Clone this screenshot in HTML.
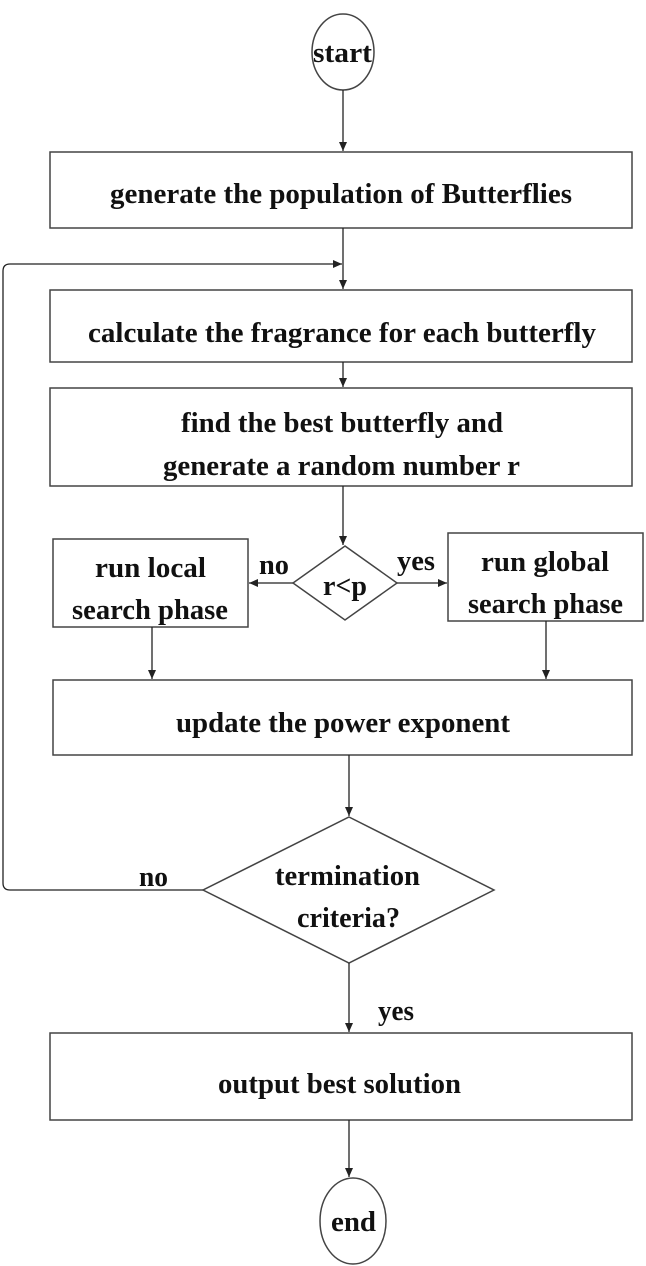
<!DOCTYPE html>
<html><head><meta charset="utf-8"><style>html,body{margin:0;padding:0;background:#fff}svg{display:block}</style></head><body>
<svg width="646" height="1266" viewBox="0 0 646 1266" xmlns="http://www.w3.org/2000/svg">
<defs><marker id="a" markerWidth="10" markerHeight="10" refX="9" refY="5" orient="auto" markerUnits="userSpaceOnUse"><path d="M0,1 L9,5 L0,9 Z" fill="#222"/></marker></defs>
<g fill="none" stroke="#444" stroke-width="1.5">
<ellipse cx="343" cy="52" rx="31" ry="38"/>
<rect x="50" y="152" width="582" height="76"/>
<rect x="50" y="290" width="582" height="72"/>
<rect x="50" y="388" width="582" height="98"/>
<polygon points="345,546 397,583 345,620 293,583"/>
<rect x="53" y="539" width="195" height="88"/>
<rect x="448" y="533" width="195" height="88"/>
<rect x="53" y="680" width="579" height="75"/>
<polygon points="349,817 494,890 349,963 203,890"/>
<rect x="50" y="1033" width="582" height="87"/>
<ellipse cx="353" cy="1221" rx="33" ry="43"/>
</g>
<g stroke="#222" stroke-width="1.3" fill="none" marker-end="url(#a)">
<line x1="343" y1="90" x2="343" y2="151"/>
<line x1="343" y1="228" x2="343" y2="289"/>
<path d="M203,890 H10 Q3,890 3,883 V271 Q3,264 10,264 H342"/>
<line x1="343" y1="362" x2="343" y2="387"/>
<line x1="343" y1="486" x2="343" y2="545"/>
<line x1="293" y1="583" x2="249" y2="583"/>
<line x1="397" y1="583" x2="447" y2="583"/>
<line x1="152" y1="627" x2="152" y2="679"/>
<line x1="546" y1="621" x2="546" y2="679"/>
<line x1="349" y1="755" x2="349" y2="816"/>
<line x1="349" y1="963" x2="349" y2="1032"/>
<line x1="349" y1="1120" x2="349" y2="1177"/>
</g>
<g font-family="'Liberation Serif',serif" font-weight="bold" font-size="28" fill="#111" lengthAdjust="spacingAndGlyphs">
<text x="313" y="62" textLength="59" lengthAdjust="spacingAndGlyphs">start</text>
<text x="110" y="203" textLength="462" lengthAdjust="spacingAndGlyphs">generate the population of Butterflies</text>
<text x="88" y="342" textLength="508" lengthAdjust="spacingAndGlyphs">calculate the fragrance for each butterfly</text>
<text x="181" y="432" textLength="322" lengthAdjust="spacingAndGlyphs">find the best butterfly and</text>
<text x="163" y="475" textLength="357" lengthAdjust="spacingAndGlyphs">generate a random number r</text>
<text x="95" y="577" textLength="111" lengthAdjust="spacingAndGlyphs">run local</text>
<text x="72" y="619" textLength="156" lengthAdjust="spacingAndGlyphs">search phase</text>
<text x="481" y="571" textLength="128" lengthAdjust="spacingAndGlyphs">run global</text>
<text x="468" y="613" textLength="155" lengthAdjust="spacingAndGlyphs">search phase</text>
<text x="323" y="595" textLength="44" lengthAdjust="spacingAndGlyphs">r&lt;p</text>
<text x="259" y="574" textLength="30" lengthAdjust="spacingAndGlyphs">no</text>
<text x="397" y="570" textLength="38" lengthAdjust="spacingAndGlyphs">yes</text>
<text x="176" y="732" textLength="334" lengthAdjust="spacingAndGlyphs">update the power exponent</text>
<text x="275" y="885" textLength="145" lengthAdjust="spacingAndGlyphs">termination</text>
<text x="297" y="927" textLength="103" lengthAdjust="spacingAndGlyphs">criteria?</text>
<text x="139" y="886" textLength="29" lengthAdjust="spacingAndGlyphs">no</text>
<text x="378" y="1020" textLength="36" lengthAdjust="spacingAndGlyphs">yes</text>
<text x="218" y="1093" textLength="243" lengthAdjust="spacingAndGlyphs">output best solution</text>
<text x="331" y="1231" textLength="45" lengthAdjust="spacingAndGlyphs">end</text>
</g>
</svg>
</body></html>
